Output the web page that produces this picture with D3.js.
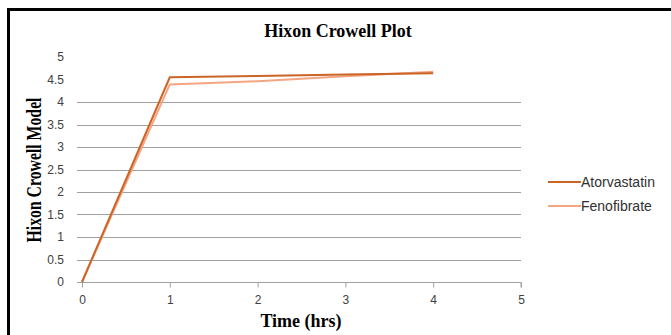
<!DOCTYPE html>
<html><head><meta charset="utf-8">
<script src="https://cdn.jsdelivr.net/npm/d3@7"></script>
<style>body{margin:0;background:#fff}svg{display:block}</style>
</head><body>
<svg id="c" width="671" height="335"></svg>
<script>
const xTicks = [0,1,2,3,4,5];
const yTicks = [0,0.5,1,1.5,2,2.5,3,3.5,4,4.5,5];
const gridValues = [0.5,1,1.5,2,2.5,3,3.5,4];
const seriesNames = ["Atorvastatin","Fenofibrate"];
const seriesColors = ["#cc6428","#f4a581"];
const times = [0,1,2,3,4];
const atorvastatin = [0,4.55,4.58,4.61,4.64];
const fenofibrate = [0,4.39,4.46,4.57,4.67];

const svg = d3.select("#c");
svg.append("rect").attr("x",0).attr("y",0).attr("width",671).attr("height",335).attr("fill","#fff");
svg.append("path").attr("d","M8.5,340 L8.5,9.5 L680,9.5").attr("fill","none").attr("stroke","#000").attr("stroke-width",3);

const x = d3.scaleLinear().domain([0,5]).range([82,521]);
const y = d3.scaleLinear().domain([0,5]).range([282,57]);

svg.append("g").selectAll("line").data(gridValues).join("line")
  .attr("x1",x(0)-5).attr("x2",x(5)).attr("y1",d=>Math.round(y(d))+0.5).attr("y2",d=>Math.round(y(d))+0.5)
  .attr("stroke","#a0a0a0").attr("stroke-width",1);

const xAxis = svg.append("g").attr("transform","translate(0,282.5)")
  .call(d3.axisBottom(x).tickValues(xTicks).tickSize(5).tickPadding(8).tickFormat(d3.format("d")));
xAxis.select(".domain").attr("d",`M${x(0)-5},0H${x(5)}V5`).attr("stroke","#a0a0a0");
xAxis.selectAll(".tick line").attr("stroke","#a0a0a0");
xAxis.selectAll("text").attr("fill","#404040").style("font-family","Liberation Sans").style("font-size","12px");

const yAxis = svg.append("g").attr("transform","translate(82,0)")
  .call(d3.axisLeft(y).tickValues(yTicks).tickSize(0).tickPadding(18).tickFormat(d=>String(d)));
yAxis.select(".domain").remove();
yAxis.selectAll("text").attr("fill","#404040").style("font-family","Liberation Sans").style("font-size","12px");

const line = d3.line().x((d,i)=>x(times[i])).y(d=>y(d));
const data = [atorvastatin, fenofibrate];
svg.append("g").selectAll("path").data([1,0]).join("path")
  .attr("d",i=>line(data[i])).attr("fill","none")
  .attr("stroke",i=>seriesColors[i]).attr("stroke-width",2).attr("stroke-linejoin","round");

const leg = svg.append("g");
seriesNames.forEach((n,i)=>{
  const ly = 182 + i*24;
  leg.append("line").attr("x1",548).attr("x2",581).attr("y1",ly).attr("y2",ly)
    .attr("stroke",seriesColors[i]).attr("stroke-width",2);
  leg.append("text").attr("x",581).attr("y",ly+5).text(n)
    .attr("fill","#303030").style("font-family","Liberation Sans").style("font-size","14px");
});

svg.append("text").attr("x",338).attr("y",37).attr("text-anchor","middle").text("Hixon Crowell Plot")
  .style("font-family","Liberation Serif").style("font-weight","bold").style("font-size","18px").attr("fill","#000");
svg.append("text").attr("x",301).attr("y",327).attr("text-anchor","middle").text("Time (hrs)")
  .style("font-family","Liberation Serif").style("font-weight","bold").style("font-size","18px").attr("fill","#000");
svg.append("text").attr("transform","translate(41,170) rotate(-90)").attr("text-anchor","middle").text("Hixon Crowell Model")
  .attr("textLength",145).attr("lengthAdjust","spacingAndGlyphs")
  .style("font-family","Liberation Serif").style("font-weight","bold").style("font-size","21px").attr("fill","#000");
</script>
</body></html>
